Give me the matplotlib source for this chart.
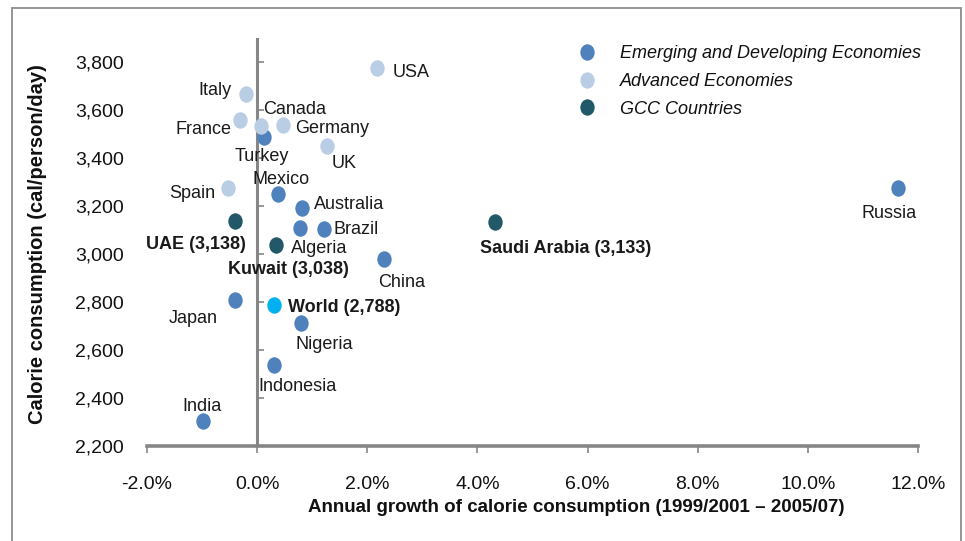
import matplotlib
matplotlib.use("Agg")
import matplotlib.pyplot as plt
from matplotlib.path import Path
from matplotlib.transforms import Affine2D
from matplotlib.patches import Rectangle
from matplotlib.lines import Line2D

plt.rcParams['font.family'] = ['Liberation Sans', 'DejaVu Sans']

# ---------------- data ----------------
emerging_names = ["Turkey", "Mexico", "Australia", "Algeria", "Brazil", "China",
                  "Japan", "Nigeria", "Indonesia", "India", "Russia"]
emerging_x = [0.12, 0.37, 0.82, 0.77, 1.21, 2.30, -0.41, 0.79, 0.31, -0.98, 11.63]
emerging_y = [3486, 3250, 3193, 3107, 3103, 2979, 2808, 2714, 2537, 2304, 3274]

advanced_names = ["USA", "Italy", "Canada", "Germany", "France", "UK", "Spain"]
advanced_x = [2.17, -0.20, 0.07, 0.47, -0.31, 1.27, -0.53]
advanced_y = [3774, 3665, 3535, 3537, 3558, 3450, 3276]

gcc_names = ["UAE (3,138)", "Kuwait (3,038)", "Saudi Arabia (3,133)"]
gcc_x = [-0.40, 0.35, 4.32]
gcc_y = [3138, 3038, 3133]

world_name = "World (2,788)"
world_x = [0.30]
world_y = [2788]

series_labels = ["Emerging and Developing Economies", "Advanced Economies", "GCC Countries"]
x_ticks = [-2, 0, 2, 4, 6, 8, 10, 12]
y_ticks = [2200, 2400, 2600, 2800, 3000, 3200, 3400, 3600, 3800]

# label placement (offset in pixels, horizontal alignment)
label_pos = {
    "USA": (16, -4, 'left'), "Italy": (-15, 4, 'right'), "Canada": (2, 16, 'left'),
    "Germany": (12, -3, 'left'), "France": (-9, -9, 'right'), "UK": (17, -18, 'center'),
    "Spain": (-13, -6, 'right'), "Turkey": (-2, -19, 'center'), "Mexico": (4, 14, 'center'),
    "Australia": (12, 3, 'left'), "Algeria": (-9, -20, 'left'), "Brazil": (10, 0, 'left'),
    "China": (18, -23, 'center'), "Japan": (-17, -18, 'right'), "Nigeria": (24, -22, 'center'),
    "Indonesia": (23, -21, 'center'), "India": (-1, 15, 'center'), "Russia": (-9, -25, 'center'),
    "UAE (3,138)": (11, -24, 'right'), "Kuwait (3,038)": (12, -25, 'center'),
    "Saudi Arabia (3,133)": (-15, -26, 'left'), "World (2,788)": (14, -3, 'left'),
}

c_emerging = '#4F81BD'
c_advanced = '#B9CDE5'
c_gcc = '#215968'
c_world = '#00B0F0'
grey = '#868686'

# ellipse marker (slightly taller than wide)
ell = Path.unit_circle().transformed(Affine2D().scale(0.875, 1.0))

fig = plt.figure(figsize=(9.65, 5.41), dpi=100)
ax = fig.add_axes([147/965, 1-446/541, (918-147)/965, (446-38)/541])

S = 140
ax.scatter(emerging_x, emerging_y, s=S, marker=ell, color=c_emerging, zorder=4, linewidths=0)
ax.scatter(advanced_x, advanced_y, s=S, marker=ell, color=c_advanced, zorder=4, linewidths=0)
ax.scatter(gcc_x, gcc_y, s=S, marker=ell, color=c_gcc, zorder=4, linewidths=0)
ax.scatter(world_x, world_y, s=S, marker=ell, color=c_world, zorder=4, linewidths=0)

def put(names, xs, ys, bold=False):
    for n, x, y in zip(names, xs, ys):
        dx, dy, ha = label_pos[n]
        ax.annotate(n, (x, y), xytext=(dx, dy), textcoords='offset pixels',
                    ha=ha, va='center', fontsize=13,
                    fontweight='bold' if bold else 'normal', color='#1a1a1a', zorder=5)

put(emerging_names, emerging_x, emerging_y)
put(advanced_names, advanced_x, advanced_y)
put(gcc_names, gcc_x, gcc_y, bold=True)
put([world_name], world_x, world_y, bold=True)

ax.set_xlim(-2, 12)
ax.set_ylim(2200, 3900)
ax.set_xticks(x_ticks)
ax.set_xticklabels([f"{v:.1f}%" for v in x_ticks])
ax.set_yticks(y_ticks)
ax.set_yticklabels([f"{v:,}" for v in y_ticks])

for s in ['top', 'right', 'left']:
    ax.spines[s].set_visible(False)
ax.spines['bottom'].set_color(grey)
ax.spines['bottom'].set_linewidth(2.6)
ax.tick_params(axis='x', colors=grey, length=5, width=1.2, labelsize=14, labelcolor='#111111', pad=16.5)
ax.tick_params(axis='y', length=0, labelsize=14, labelcolor='#111111', pad=16.5)

# vertical axis line at x = 0 with tick marks
ax.axvline(0, color=grey, lw=2.2, zorder=2)
ax.plot([0]*len(y_ticks), y_ticks, linestyle='none', marker=1, markersize=5,
        markeredgewidth=1.2, color=grey, zorder=2, clip_on=False)

fig.text(576/965, 1-508/541, "Annual growth of calorie consumption (1999/2001 \u2013 2005/07)",
         ha='center', va='center', fontsize=13.5, fontweight='bold', color='#111111')
fig.text(38/965, 1-244/541, "Calorie consumption (cal/person/day)", rotation=90,
         ha='center', va='center', fontsize=14.5, fontweight='bold', color='#111111')

handles = [Line2D([], [], linestyle='none', marker=ell, markersize=11.8, color=c, markeredgewidth=0)
           for c in (c_emerging, c_advanced, c_gcc)]
leg = fig.legend(handles, series_labels, loc='upper left', bbox_to_anchor=(578/965, 1-45/541),
                 frameon=False, borderpad=0, borderaxespad=0, handlelength=1.0,
                 handletextpad=1.3, labelspacing=0.6, prop={'size': 13, 'style': 'italic'})
for t in leg.get_texts():
    t.set_color('#111111')

fig.patches.append(Rectangle((12/965, -0.02), (961-12)/965, (541-8)/541 + 0.02,
                             transform=fig.transFigure, fill=False, edgecolor='#8c8c8c', lw=1.3))

fig.savefig("out.png", dpi=100)
